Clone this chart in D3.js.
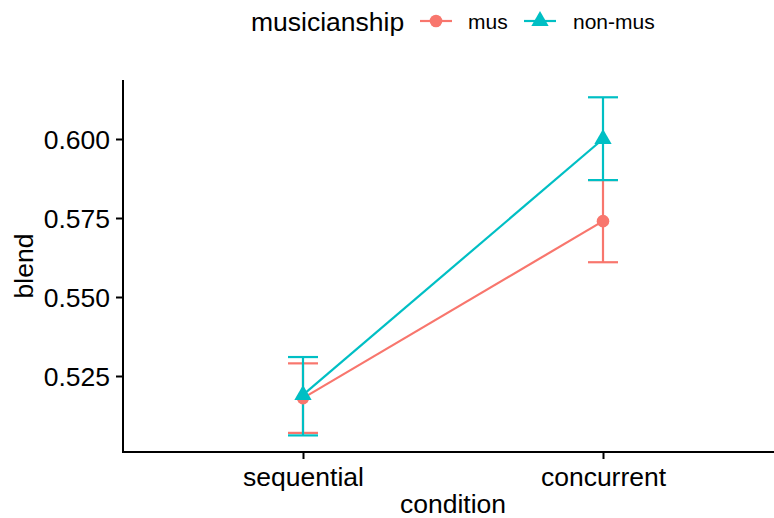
<!doctype html>
<html>
<head>
<meta charset="utf-8">
<title>blend by condition</title>
<style>
  body { margin: 0; background: #fff; }
  text { font-family: "Liberation Sans", Arial, Helvetica, sans-serif; fill: #000; }
</style>
</head>
<body>
<script src="https://cdn.jsdelivr.net/npm/d3@7"></script>
<script>
// data
var conditions = ["sequential", "concurrent"];
var groups = ["mus", "non-mus"];
var musMean = [0.518, 0.574];
var musLow = [0.507, 0.561];
var musHigh = [0.529, 0.587];
var nonMean = [0.519, 0.600];
var nonLow = [0.5062, 0.587];
var nonHigh = [0.531, 0.6132];
var yTicks = [0.525, 0.550, 0.575, 0.600];

var colors = { "mus": "#F8766D", "non-mus": "#00BFC4" };

var series = [
  { name: "mus", mean: musMean, low: musLow, high: musHigh },
  { name: "non-mus", mean: nonMean, low: nonLow, high: nonHigh }
];

var w = 774, h = 518;
var pLeft = 123, pRight = 783, pTop = 80, pBottom = 452;

var svg = d3.select("body").append("svg")
  .attr("width", w)
  .attr("height", h);

// scales
var x = d3.scalePoint()
  .domain(conditions)
  .range([pLeft, pRight])
  .padding(0.6);

var y = d3.scaleLinear()
  .domain([0.50095, 0.61867])
  .range([pBottom, pTop]);

// axes
var xAxis = svg.append("g")
  .attr("transform", "translate(0," + pBottom + ")")
  .call(d3.axisBottom(x).tickSizeOuter(0).tickSize(7).tickPadding(6));
var yAxis = svg.append("g")
  .attr("transform", "translate(" + pLeft + ",0)")
  .call(d3.axisLeft(y).tickValues(yTicks).tickFormat(d3.format(".3f")).tickSizeOuter(0).tickSize(7).tickPadding(6));

[xAxis, yAxis].forEach(function(a) {
  a.select(".domain").attr("stroke", "#000").attr("stroke-width", 2);
  a.selectAll(".tick line").attr("stroke", "#000").attr("stroke-width", 2);
  a.selectAll(".tick text").style("font-size", "26.5px").attr("fill", "#000");
});
yAxis.select(".domain").attr("d", "M0," + pTop + "V" + pBottom);
xAxis.select(".domain").attr("d", "M" + (pLeft - 1) + ",0H" + pRight);
xAxis.selectAll(".tick text").attr("dy", "0.78em");
yAxis.selectAll(".tick text").attr("dy", "0.35em");

// axis titles
svg.append("text")
  .attr("x", (pLeft + pRight) / 2)
  .attr("y", 513)
  .attr("text-anchor", "middle")
  .style("font-size", "26.5px")
  .text("condition");

svg.append("text")
  .attr("transform", "translate(33," + ((pTop + pBottom) / 2) + ") rotate(-90)")
  .attr("text-anchor", "middle")
  .style("font-size", "26.5px")
  .text("blend");

// error bars
var capW = 15;
series.forEach(function(s) {
  var g = svg.append("g").attr("stroke", colors[s.name]).attr("stroke-width", 2.2).attr("fill", "none");
  conditions.forEach(function(c, i) {
    var cx = x(c);
    g.append("line").attr("x1", cx).attr("x2", cx).attr("y1", y(s.low[i])).attr("y2", y(s.high[i]));
    g.append("line").attr("x1", cx - capW).attr("x2", cx + capW).attr("y1", y(s.low[i])).attr("y2", y(s.low[i]));
    g.append("line").attr("x1", cx - capW).attr("x2", cx + capW).attr("y1", y(s.high[i])).attr("y2", y(s.high[i]));
  });
});

// lines
var line = d3.line()
  .x(function(d, i) { return x(conditions[i]); })
  .y(function(d) { return y(d); });

series.forEach(function(s) {
  svg.append("path")
    .datum(s.mean)
    .attr("d", line)
    .attr("fill", "none")
    .attr("stroke", colors[s.name])
    .attr("stroke-width", 2.2);
});

// points
var triangle = d3.symbol().type(d3.symbolTriangle).size(130);
series.forEach(function(s) {
  s.mean.forEach(function(v, i) {
    if (s.name == "mus") {
      svg.append("circle")
        .attr("cx", x(conditions[i]))
        .attr("cy", y(v))
        .attr("r", 6.3)
        .attr("fill", colors[s.name]);
    } else {
      svg.append("path")
        .attr("d", triangle)
        .attr("transform", "translate(" + x(conditions[i]) + "," + y(v) + ")")
        .attr("fill", colors[s.name]);
    }
  });
});

// legend
var legend = svg.append("g");
legend.append("text")
  .attr("x", 251)
  .attr("y", 31)
  .style("font-size", "26.5px")
  .text("musicianship");

var keys = [
  { name: "mus", x0: 420, tx: 468 },
  { name: "non-mus", x0: 524, tx: 573 }
];
keys.forEach(function(k) {
  legend.append("line")
    .attr("x1", k.x0).attr("x2", k.x0 + 32)
    .attr("y1", 21).attr("y2", 21)
    .attr("stroke", colors[k.name])
    .attr("stroke-width", 2.2);
  if (k.name == "mus") {
    legend.append("circle").attr("cx", k.x0 + 16).attr("cy", 21).attr("r", 6.3).attr("fill", colors[k.name]);
  } else {
    legend.append("path").attr("d", triangle)
      .attr("transform", "translate(" + (k.x0 + 16) + ",21)")
      .attr("fill", colors[k.name]);
  }
  legend.append("text")
    .attr("x", k.tx)
    .attr("y", 29)
    .style("font-size", "21px")
    .text(k.name);
});
</script>
</body>
</html>
